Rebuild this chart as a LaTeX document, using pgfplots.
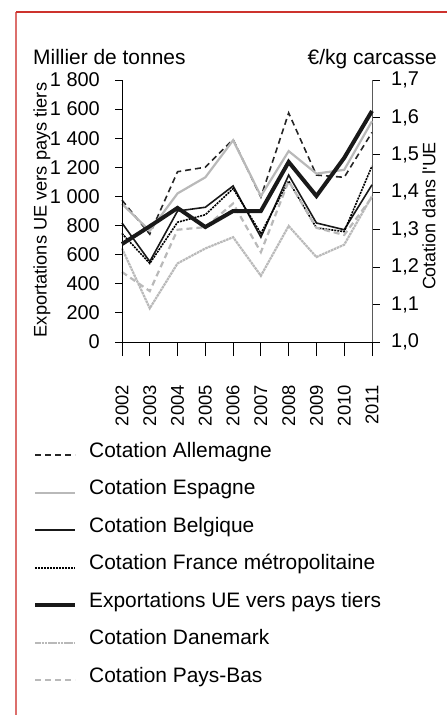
\documentclass[border=0pt]{standalone}
\usepackage{fontspec}
\setmainfont{Liberation Sans}
\usepackage{pgfplots}
\pgfplotsset{compat=1.18}
\definecolor{lgray}{RGB}{185,185,185}
\definecolor{framered}{RGB}{205,50,45}
\definecolor{axgray}{RGB}{90,90,90}

\pgfplotsset{
  common/.style={scale only axis, width=250bp, height=262bp,
    at={(122bp,-342bp)}, anchor=south west,
    xmin=2002, xmax=2011, tick align=outside,
    /pgf/number format/assume math mode=true,
    every tick/.style={black, line width=0.9bp},
    axis line style={line width=0.9bp},
    yticklabel style={font=\fontsize{20}{24}\selectfont},
    clip=false},
  allemagne/.style={black!85, line width=1.6bp, dash pattern=on 6bp off 4bp},
  espagne/.style={lgray, line width=2.2bp},
  belgique/.style={black!90, line width=1.6bp},
  france/.style={black, line width=1.6bp, dash pattern=on 2bp off 1bp},
  exports/.style={black!90, line width=4bp},
  danemark/.style={lgray, line width=2.2bp, dash pattern=on 2.5bp off 0.7bp},
  paysbas/.style={lgray, line width=2.2bp, dash pattern=on 6bp off 4bp},
}

\begin{document}
\fontsize{21}{25}\selectfont
\begin{tikzpicture}
\useasboundingbox (0,0) rectangle (447bp,-715bp);
\draw[framered!70, line width=1.4bp] (16bp,-715bp) -- (16bp,-12bp);
\draw[framered, line width=1.4bp] (16bp,-12bp) -- (447bp,-12bp);

% x axis only
\begin{axis}[common, axis y line=none, axis x line*=bottom, ymin=0, ymax=1,
  xtick={2002,2003,2004,2005,2006,2007,2008,2009,2010,2011},
  xticklabels={2002,2003,2004,2005,2006,2007,2008,2009,2010,2011},
  major tick length=14bp,
  xticklabel shift=29bp,
  xticklabel style={rotate=90, anchor=east, inner sep=0pt, font=\fontsize{18.5}{22}\selectfont}]
\end{axis}

% cotations, right axis
\begin{axis}[common, axis x line=none, axis y line*=right,
  ymin=1, ymax=1.7,
  ytick={1.0,1.1,1.2,1.3,1.4,1.5,1.6,1.7},
  yticklabels={{1,0},{1,1},{1,2},{1,3},{1,4},{1,5},{1,6},{1,7}},
  major tick length=8bp,
  y axis line style={axgray},
  yticklabel shift=11bp,
  yticklabel style={anchor=west, inner sep=0pt},
  legend style={at={(-0.356,-0.3855)}, anchor=north west, draw=none,
    fill=none, inner sep=0pt, row sep=19.5bp, column sep=12bp,
    nodes={inner sep=0pt, text height=14bp, text depth=4bp, anchor=base west, yshift=-2bp}},
  legend image code/.code={\draw[#1] (0bp,0bp) -- (40bp,0bp);},
]
\addplot[allemagne] coordinates {(2002,1.379)(2003,1.288)(2004,1.455)(2005,1.467)(2006,1.541)(2007,1.387)(2008,1.612)(2009,1.446)(2010,1.440)(2011,1.560)};
\addlegendentry{Cotation Allemagne}
\addplot[espagne] coordinates {(2002,1.369)(2003,1.297)(2004,1.397)(2005,1.440)(2006,1.539)(2007,1.390)(2008,1.510)(2009,1.450)(2010,1.460)(2011,1.590)};
\addlegendentry{Cotation Espagne}
\addplot[belgique] coordinates {(2002,1.318)(2003,1.215)(2004,1.350)(2005,1.360)(2006,1.417)(2007,1.280)(2008,1.446)(2009,1.318)(2010,1.300)(2011,1.420)};
\addlegendentry{Cotation Belgique}
\addplot[france] coordinates {(2002,1.290)(2003,1.210)(2004,1.320)(2005,1.340)(2006,1.410)(2007,1.290)(2008,1.430)(2009,1.305)(2010,1.295)(2011,1.470)};
\addlegendentry{Cotation France métropolitaine}
\addlegendimage{exports}
\addlegendentry{Exportations UE vers pays tiers}
\addplot[danemark] coordinates {(2002,1.250)(2003,1.090)(2004,1.210)(2005,1.250)(2006,1.280)(2007,1.177)(2008,1.310)(2009,1.227)(2010,1.260)(2011,1.390)};
\addlegendentry{Cotation Danemark}
\addplot[paysbas] coordinates {(2002,1.187)(2003,1.136)(2004,1.300)(2005,1.307)(2006,1.370)(2007,1.240)(2008,1.430)(2009,1.305)(2010,1.286)(2011,1.387)};
\addlegendentry{Cotation Pays-Bas}
\end{axis}

% exports, left axis
\begin{axis}[common, axis x line=none, axis y line*=left,
  ymin=0, ymax=1800,
  ytick={0,200,400,600,800,1000,1200,1400,1600,1800},
  yticklabels={0,200,400,600,800,1 000,1 200,1 400,1 600,1 800},
  major tick length=7bp,
  yticklabel shift=15bp,
  yticklabel style={anchor=east, inner sep=0pt}]
\addplot[exports] coordinates {(2002,673)(2003,795)(2004,921)(2005,790)(2006,900)(2007,900)(2008,1237)(2009,1003)(2010,1265)(2011,1587)};
\end{axis}

\node[anchor=base west, inner sep=0pt] at (33bp,-64bp) {Millier de tonnes};
\node[anchor=base east, inner sep=0pt] at (437bp,-64bp) {€/kg carcasse};
\node[rotate=90, inner sep=0pt, font=\fontsize{18.3}{22}\selectfont] at (42bp,-210bp) {Exportations UE vers pays tiers};
\node[rotate=90, inner sep=0pt, font=\fontsize{18}{22}\selectfont] at (429bp,-216bp) {Cotation dans l\textquotesingle UE};
\end{tikzpicture}
\end{document}
